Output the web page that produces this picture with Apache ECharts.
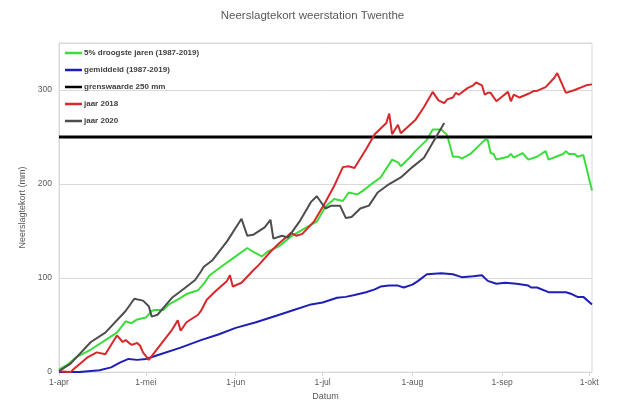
<!DOCTYPE html>
<html>
<head>
<meta charset="utf-8">
<script src="https://cdn.jsdelivr.net/npm/echarts@6/dist/echarts.min.js"></script>
<style>
html,body{margin:0;padding:0;background:#fff;}
#chart{width:625px;height:406px;}
</style>
</head>
<body>
<div id="chart"></div>
<script>
// Category tick labels (days 1-apr .. 2-okt)
const monthNames = ['apr', 'mei', 'jun', 'jul', 'aug', 'sep', 'okt'];
const monthDays = [30, 31, 30, 31, 31, 30, 2];

// Series names
const seriesNames = ['5% droogste jaren (1987-2019)', 'gemiddeld (1987-2019)', 'grenswaarde 250 mm', 'jaar 2018', 'jaar 2020'];

// [day index from 1-apr, neerslagtekort mm]
const droogste5 = [[0,3],[3,8],[6,16],[11,24],[16,34],[20,42],[23,54],[25,52],[27,56],[30,58],[32,65],[33,66],[36,66],[38,72],[42,79],[44,83],[48,87],[50,94],[52,103],[56,112],[60,121],[65,132],[67,128],[70,123],[72,128],[76,134],[80,144],[86,155],[89,160],[92,176],[95,184],[98,182],[100,191],[103,189],[105,193],[107,198],[111,207],[115,226],[117,223],[118,219],[121,228],[123,235],[127,247],[129,258],[132,258],[134,252],[136,229],[138,229],[139,227],[142,232],[147,247],[148,247],[149,233],[150,232],[151,226],[155,229],[156,232],[157,228],[160,233],[162,226],[165,229],[168,235],[169,226],[174,232],[175,235],[176,232],[178,232],[179,229],[181,231],[184,193]];
const gemiddeld = [[0,0],[7,0],[10,1],[14,2],[18,5],[21,10],[24,14],[27,13],[30,14],[35,19],[42,26],[49,34],[55,40],[61,47],[68,53],[75,60],[80,65],[87,72],[91,74],[96,79],[99,80],[102,82],[106,85],[109,88],[111,91],[114,92],[117,92],[119,90],[122,93],[124,97],[127,104],[132,105],[136,104],[139,101],[143,102],[146,103],[148,97],[151,94],[154,95],[158,94],[162,92],[163,90],[165,90],[169,85],[175,85],[177,83],[179,80],[181,80],[184,72]];
const grenswaarde = [[0,250],[184,250]];
const jaar2018 = [[0,1],[4,0],[5,3],[10,16],[13,21],[16,19],[20,39],[22,32],[23,34],[25,29],[27,31],[28,28],[29,21],[31,13],[35,29],[39,45],[41,55],[42,44],[44,53],[48,61],[49,65],[51,77],[54,86],[58,97],[59,103],[60,91],[63,95],[67,108],[69,114],[73,128],[76,137],[79,145],[80,148],[82,145],[84,147],[88,160],[92,181],[95,198],[98,218],[100,219],[102,217],[106,237],[109,253],[113,265],[114,275],[115,253],[117,263],[118,254],[123,268],[126,282],[129,298],[131,289],[133,286],[134,290],[136,292],[137,297],[138,295],[141,302],[143,305],[144,308],[146,305],[147,295],[148,297],[149,297],[151,288],[153,293],[155,298],[156,288],[157,295],[159,292],[162,296],[164,299],[165,299],[168,303],[171,313],[172,318],[175,297],[178,300],[182,305],[184,306]];
const jaar2020 = [[0,1],[4,9],[11,32],[16,42],[23,65],[26,78],[29,76],[31,70],[32,59],[34,61],[39,79],[42,86],[47,98],[49,107],[50,112],[53,119],[58,139],[63,163],[65,145],[67,146],[69,150],[71,154],[73,162],[74,142],[77,145],[79,143],[80,147],[83,160],[87,181],[89,187],[92,174],[94,177],[97,177],[99,164],[101,165],[104,174],[107,177],[110,191],[114,200],[118,207],[122,218],[126,228],[129,244],[133,265]];

const yTicks = [0, 100, 200, 300];

const categories = [];
monthNames.forEach((m, i) => { for (let d = 1; d <= monthDays[i]; d++) categories.push(d + '-' + m); });

const colors = ['#3ddc3d', '#1f1fb4', '#000000', '#d8282b', '#4d4d4d'];
const datasets = [droogste5, gemiddeld, grenswaarde, jaar2018, jaar2020];
const FONT = 'Liberation Sans';

const chart = echarts.init(document.getElementById('chart'), null, {renderer: 'canvas'});
chart.setOption({
  animation: false,
  backgroundColor: '#fff',
  title: {
    text: 'Neerslagtekort weerstation Twenthe',
    left: 'center', top: 5,
    textStyle: {fontFamily: FONT, fontSize: 11.5, fontWeight: 'normal', color: '#595959'}
  },
  legend: {
    orient: 'vertical', left: 60, top: 44,
    itemWidth: 17, itemHeight: 2.5, itemGap: 9, icon: 'rect',
    data: seriesNames,
    textStyle: {fontFamily: FONT, fontSize: 8, fontWeight: 'bold', color: '#404040', padding: [0,0,0,-3]}
  },
  grid: {left: 59, right: 33, top: 43, bottom: 31, show: true, borderColor: '#d9d9d9', borderWidth: 1},
  xAxis: {
    type: 'category', data: categories, boundaryGap: false,
    name: 'Datum', nameLocation: 'middle', nameGap: 18,
    nameTextStyle: {fontFamily: FONT, fontSize: 9, color: '#595959'},
    axisLine: {lineStyle: {color: '#d9d9d9'}},
    axisTick: {show: true, length: 4, lineStyle: {color: '#d9d9d9'}, interval: (i, v) => v.startsWith('1-')},
    axisLabel: {fontFamily: FONT, fontSize: 8.5, color: '#595959', margin: 6, interval: (i, v) => v.startsWith('1-')},
    splitLine: {show: false}
  },
  yAxis: {
    type: 'value', min: 0, max: 350, interval: 100,
    name: 'Neerslagtekort (mm)', nameLocation: 'middle', nameGap: 32,
    nameTextStyle: {fontFamily: FONT, fontSize: 9, color: '#595959'},
    axisLine: {show: true, lineStyle: {color: '#d9d9d9'}},
    axisTick: {show: false},
    axisLabel: {fontFamily: FONT, fontSize: 8.5, color: '#595959', margin: 7,
      formatter: v => yTicks.includes(v) ? String(v) : ''},
    splitLine: {show: true, lineStyle: {color: '#d9d9d9'}}
  },
  series: seriesNames.map((n, i) => ({
    name: n, type: 'line', data: datasets[i], showSymbol: false, symbol: 'none',
    color: colors[i],
    lineStyle: {width: i === 2 ? 3 : 2, color: colors[i]}
  }))
});
</script>
</body>
</html>
